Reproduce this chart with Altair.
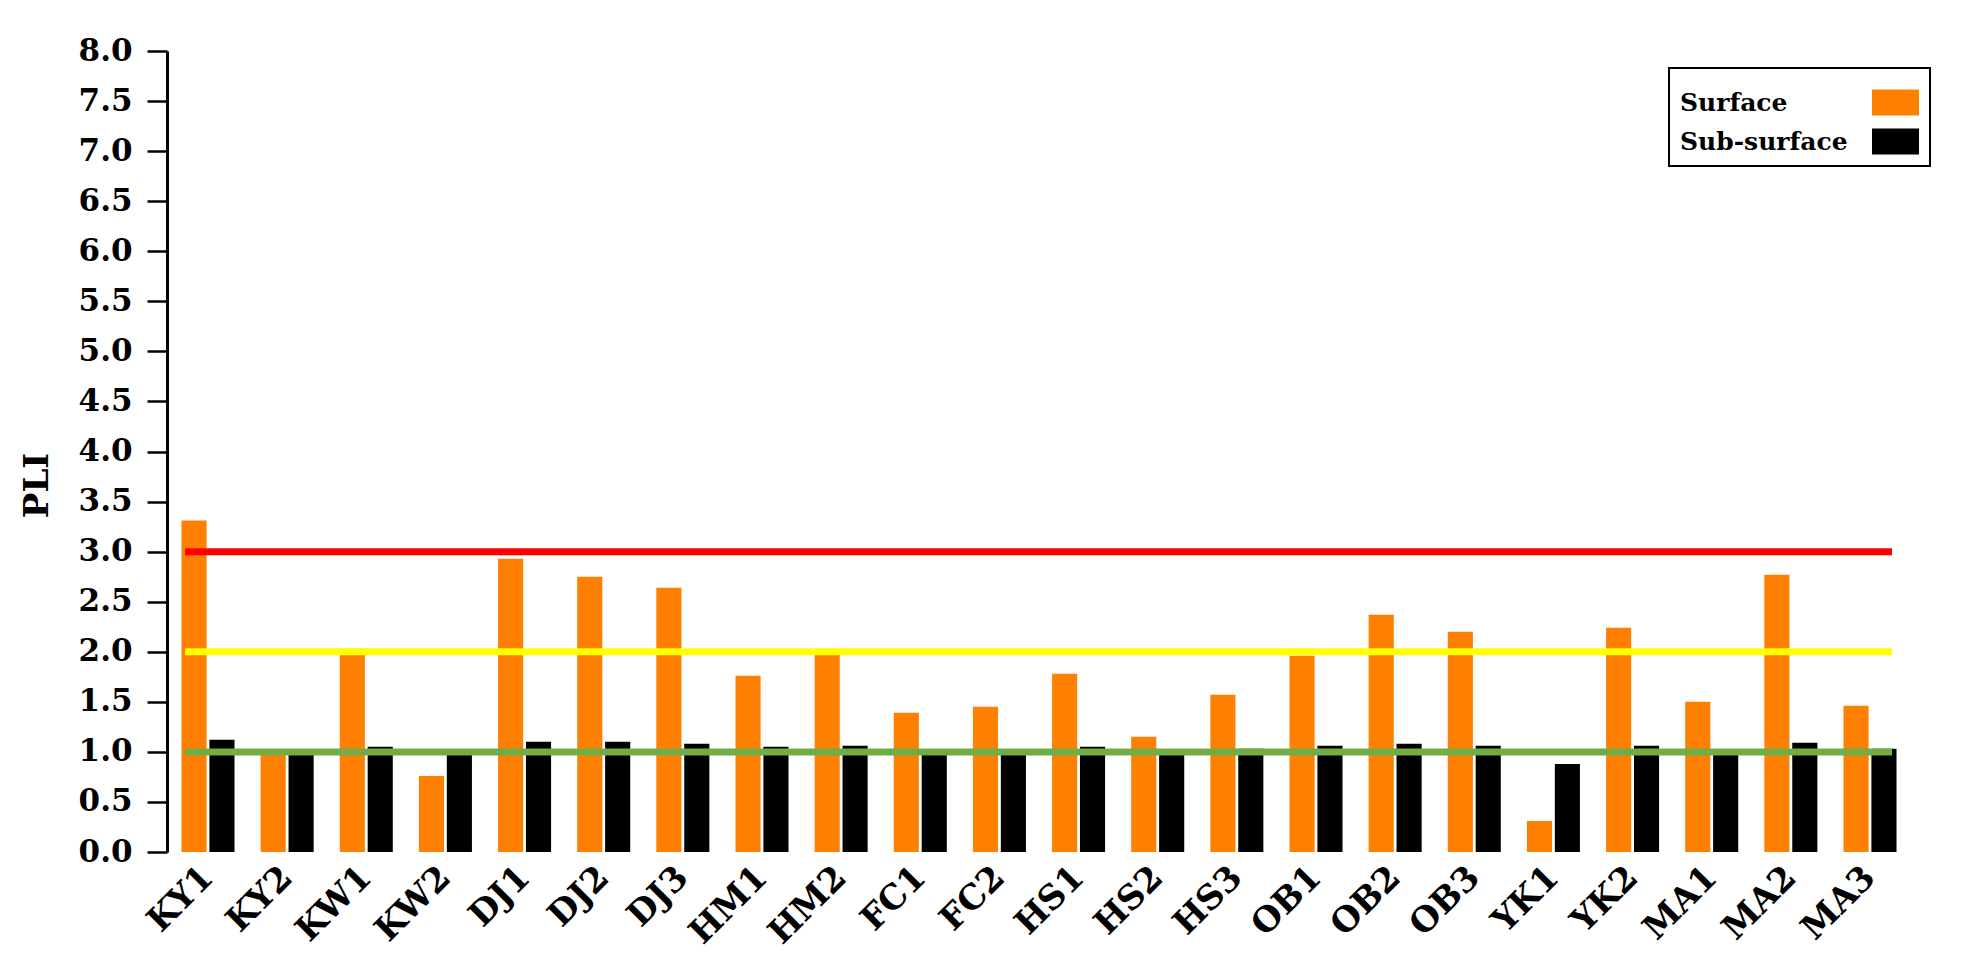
import altair as alt
import pandas as pd

# ---- data ----
sites = ["KY1", "KY2", "KW1", "KW2", "DJ1", "DJ2", "DJ3", "HM1", "HM2", "FC1", "FC2",
         "HS1", "HS2", "HS3", "OB1", "OB2", "OB3", "YK1", "YK2", "MA1", "MA2", "MA3"]
surface = [3.31, 0.99, 2.03, 0.76, 2.93, 2.75, 2.64, 1.76, 1.97, 1.39, 1.45,
           1.78, 1.15, 1.57, 1.96, 2.37, 2.20, 0.31, 2.24, 1.50, 2.77, 1.46]
subsurface = [1.12, 0.98, 1.05, 0.97, 1.10, 1.10, 1.08, 1.05, 1.06, 0.99, 0.99,
              1.05, 0.98, 1.03, 1.06, 1.08, 1.06, 0.88, 1.06, 0.99, 1.09, 1.03]
series = ["Surface", "Sub-surface"]
series_colors = ["#FF8000", "#000000"]
levels = [3.0, 2.0, 1.0]
level_colors = ["#FF0000", "#FFFF00", "#70AD47"]
y_ticks = [i * 0.25 for i in range(33)]

rows = []
for s, a, b in zip(sites, surface, subsurface):
    rows.append({"site": s, "series": series[0], "PLI": a})
    rows.append({"site": s, "series": series[1], "PLI": b})
df = pd.DataFrame(rows)
lines = pd.DataFrame({"level": levels, "color": level_colors})

FONT = "DejaVu Serif"
W, H = 1744, 801

y_scale = alt.Scale(domain=[0, 8], nice=False, zero=True)

x_enc = alt.X(
    "site:N", sort=sites,
    scale=alt.Scale(paddingInner=0.33, paddingOuter=0.183),
    axis=alt.Axis(title=None, labelAngle=-45, labelAlign="right", labelBaseline="middle",
                  labelPadding=20, labelFont=FONT, labelFontWeight="bold", labelFontSize=34,
                  labelColor="black", ticks=False, domain=False, labelOverlap=False),
)

y_axis = alt.Axis(
    title="PLI", values=y_ticks,
    labelExpr="datum.value % 0.5 == 0 ? format(datum.value, '.1f') : ''",
    tickSize={"condition": {"test": "datum.value % 0.5 == 0", "value": 20}, "value": 10},
    tickWidth=2.5, tickColor="black", domainColor="black", domainWidth=3,
    labelFont=FONT, labelFontWeight="bold", labelFontSize=31, labelColor="black",
    labelPadding=15, labelOverlap=False, grid=False,
    titleFont=FONT, titleFontWeight="bold", titleFontSize=34, titleColor="black",
    titleAngle=270, titleAlign="center", titleBaseline="middle", titleX=-130, titleY=434,
)

bars = alt.Chart(df).mark_bar().encode(
    x=x_enc,
    xOffset=alt.XOffset("series:N", sort=series, scale=alt.Scale(paddingInner=0.1)),
    y=alt.Y("PLI:Q", scale=y_scale, axis=y_axis),
    color=alt.Color(
        "series:N", sort=series,
        scale=alt.Scale(domain=series, range=series_colors),
        legend=alt.Legend(
            title=None, orient="none", legendX=1502, legendY=17,
            symbolType="M-1,-0.55H1V0.55H-1Z", symbolSize=2209, symbolStrokeWidth=0,
            symbolOpacity=1, symbolOffset=192,
            labelFont=FONT, labelFontWeight="bold", labelFontSize=25, labelColor="black",
            labelAlign="left", labelOffset={"expr": "-239"}, labelLimit=400,
            strokeColor="black", fillColor="white", padding=11, rowPadding=2,
        ),
    ),
)

rules = alt.Chart(lines).mark_rule(strokeWidth=7).encode(
    y=alt.Y("level:Q", scale=y_scale),
    x=alt.value(18),
    x2=alt.value(1725),
    stroke=alt.Stroke("color:N", scale=None),
)

chart = alt.layer(bars, rules).properties(
    width=W, height=H,
    autosize=alt.AutoSizeParams(type="none"),
    padding={"left": 159, "top": 43, "right": 50, "bottom": 110},
    background="white",
).configure_view(stroke=None).configure_legend(strokeWidth=2)

chart.save("out.html", embed_options={"renderer": "svg", "actions": False})
